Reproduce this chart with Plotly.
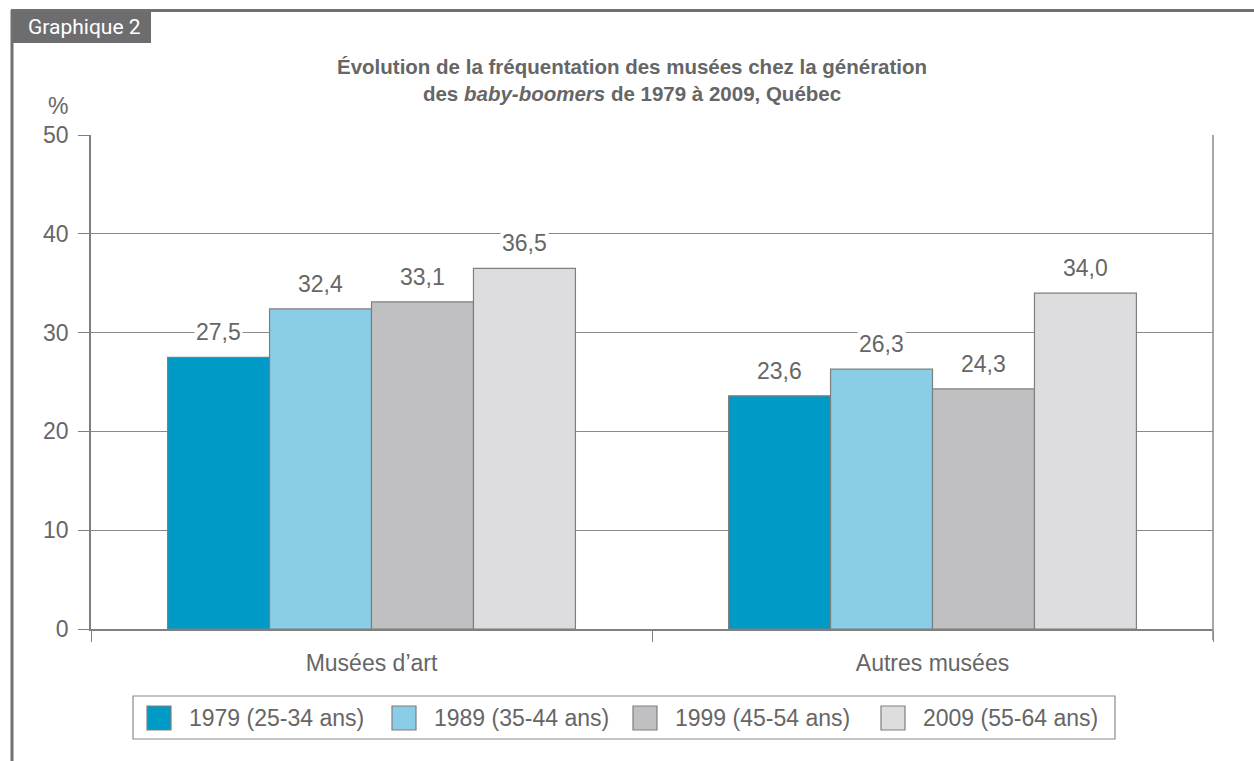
import plotly.graph_objects as go

categories = ["Musées d’art", "Autres musées"]
series_names = ["1979 (25-34 ans)", "1989 (35-44 ans)", "1999 (45-54 ans)", "2009 (55-64 ans)"]
values_1979 = [27.5, 23.6]
values_1989 = [32.4, 26.3]
values_1999 = [33.1, 24.3]
values_2009 = [36.5, 34.0]
colors = ["#009AC7", "#89CDE6", "#C0C0C2", "#DDDDDF"]
y_ticks = [0, 10, 20, 30, 40, 50]

all_values = [values_1979, values_1989, values_1999, values_2009]

W, H = 1254, 761
L, R, T, B = 91, 41, 135, 132
pw, ph = W - L - R, H - T - B
bargap = 0.273

def px(x):
    return (x - L) / pw

def py(y):
    return (H - B - y) / ph

FONT = "Liberation Sans, Arial, sans-serif"
TXT = "#666666"
FS = 23

fig = go.Figure()
for name, vals, col in zip(series_names, all_values, colors):
    fig.add_trace(go.Bar(
        x=categories, y=vals, name=name,
        marker=dict(color=col, line=dict(color="#7f7f7f", width=1.2)),
        hoverinfo="y+name",
    ))

# value labels with white background
bar_px = pw / len(categories) * (1 - bargap) / len(all_values)
annotations = []
for i, vals in enumerate(all_values):
    for c, v in zip(categories, vals):
        annotations.append(dict(
            x=c, y=v, xref="x", yref="y",
            text=f"{v:.1f}".replace(".", ","),
            showarrow=False, xshift=(i - 1.5) * bar_px, yshift=25,
            yanchor="middle", bgcolor="white", borderpad=1,
            font=dict(family=FONT, size=FS, color=TXT),
        ))

annotations += [
    dict(xref="paper", yref="paper", x=px(632), y=py(80), text="<b>Évolution de la fréquentation des musées chez la génération<br>des <i>baby-boomers</i> de 1979 à 2009, Québec</b>",
         showarrow=False, xanchor="center", yanchor="middle", align="center",
         font=dict(family=FONT, size=20.5, color=TXT)),
    dict(xref="paper", yref="paper", x=px(58), y=py(106), text="%", showarrow=False,
         xanchor="center", yanchor="middle", font=dict(family=FONT, size=FS, color=TXT)),
    dict(xref="paper", yref="paper", x=px(26), y=py(27), text="Graphique 2", showarrow=False,
         xanchor="left", yanchor="middle", font=dict(family="Roboto, sans-serif", size=21, color="white")),
]

shapes = [
    # frame
    dict(type="line", xref="paper", yref="paper", x0=px(11), x1=px(1254), y0=py(10.5), y1=py(10.5),
         line=dict(color="#707073", width=3), layer="above"),
    dict(type="line", xref="paper", yref="paper", x0=px(12), x1=px(12), y0=py(10), y1=py(761),
         line=dict(color="#707073", width=3), layer="above"),
    dict(type="rect", xref="paper", yref="paper", x0=px(11), x1=px(151), y0=py(10), y1=py(43),
         fillcolor="#6d6d70", line=dict(width=0), layer="below"),
    # right border extension
    dict(type="line", xref="paper", yref="paper", x0=1, x1=1, y0=py(640), y1=1,
         line=dict(color="#8a8a8a", width=1.5)),
    # legend box
    dict(type="rect", xref="paper", yref="paper", x0=px(133), x1=px(1115), y0=py(696), y1=py(739),
         line=dict(color="#8a8a8a", width=1.2), fillcolor="white"),
]

# manual legend entries
swatch_x = [147, 392, 633, 881]
for sx, name, col in zip(swatch_x, series_names, colors):
    shapes.append(dict(type="rect", xref="paper", yref="paper", x0=px(sx), x1=px(sx + 24),
                       y0=py(706), y1=py(730), fillcolor=col, line=dict(color="#7f7f7f", width=1.2)))
    annotations.append(dict(xref="paper", yref="paper", x=px(sx + 40), y=py(718), text=name,
                            showarrow=False, xanchor="left", yanchor="middle",
                            font=dict(family=FONT, size=FS, color=TXT)))

fig.update_layout(
    width=W, height=H,
    margin=dict(l=L, r=R, t=T, b=B),
    paper_bgcolor="white", plot_bgcolor="white",
    barmode="group", bargap=bargap, bargroupgap=0,
    font=dict(family=FONT, size=FS, color=TXT),
    showlegend=False,
    annotations=annotations,
    shapes=shapes,
    xaxis=dict(showline=True, linecolor="#808080", linewidth=1.5, ticks="outside",
               tickson="boundaries", ticklen=11, tickcolor="#808080", tickwidth=1,
               ticklabelstandoff=13,
               showgrid=False, tickfont=dict(family=FONT, size=FS, color=TXT),
               fixedrange=True),
    yaxis=dict(range=[0, 50], tickvals=y_ticks, showline=True, linecolor="#808080", linewidth=1.5,
               ticks="outside", ticklen=11, tickcolor="#808080", tickwidth=1,
               ticklabelstandoff=5,
               showgrid=True, gridcolor="#8a8a8a", gridwidth=1, zeroline=False,
               tickfont=dict(family=FONT, size=FS, color=TXT), fixedrange=True),
)

fig.write_html("out.html", config={"displayModeBar": False},
               post_script="document.body.style.margin='0';document.body.style.padding='0';")
